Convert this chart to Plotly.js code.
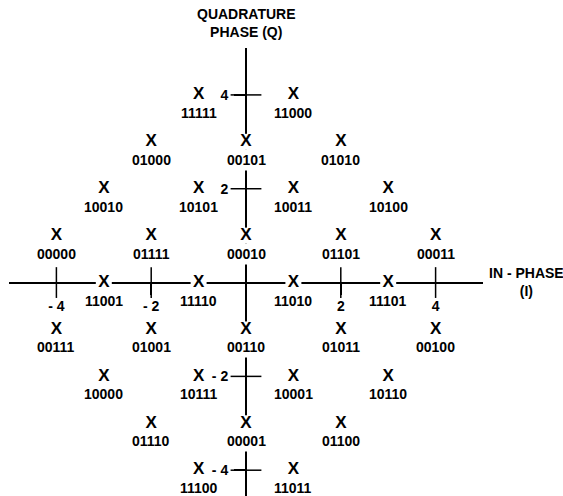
<!DOCTYPE html>
<html>
<head>
<meta charset="utf-8">
<script src="https://cdn.plot.ly/plotly-3.0.1.min.js"></script>
<style>
	body {margin: 0; background: #fff;}
	#chart {width: 563px; height: 496px;}
</style>
</head>
<body>
<div id="chart"></div>
<script>
// constellation points, row by row from the top (Q = 4 down to Q = -4)
const inPhase = [
	-1, 1,
	-2, 0, 2,
	-3, -1, 1, 3,
	-4, -2, 0, 2, 4,
	-3, -1, 1, 3,
	-4, -2, 0, 2, 4,
	-3, -1, 1, 3,
	-2, 0, 2,
	-1, 1,
];
const quadrature = [
	4, 4,
	3, 3, 3,
	2, 2, 2, 2,
	1, 1, 1, 1, 1,
	0, 0, 0, 0,
	-1, -1, -1, -1, -1,
	-2, -2, -2, -2,
	-3, -3, -3,
	-4, -4,
];
const codes = [
	'11111', '11000',
	'01000', '00101', '01010',
	'10010', '10101', '10011', '10100',
	'00000', '01111', '00010', '01101', '00011',
	'11001', '11110', '11010', '11101',
	'00111', '01001', '00110', '01011', '00100',
	'10000', '10111', '10001', '10110',
	'01110', '00001', '01100',
	'11100', '11011',
];

const tickVals = [-4, -2, 2, 4];
const xTickText = ['- 4', '- 2', '2', '4'];
const yTickText = ['- 4', '- 2', '2', '4'];

const xRange = [-5, 5];
const yRange = [-4.55, 5];

const FONT = 'Liberation Sans, Arial, Helvetica, sans-serif';

function tickCrosses() {
	// little cross bars where the ticks sit on both axes
	const x = [];
	const y = [];
	const symbols = [];
	for (const v of tickVals) {
		x.push(0); y.push(v); symbols.push('line-ew');
	}
	for (const v of tickVals) {
		x.push(v); y.push(0); symbols.push('line-ns');
	}
	return {
		x, y, type: 'scatter', mode: 'markers', hoverinfo: 'skip',
		marker: {symbol: symbols, size: 22, color: 'black', line: {color: 'black', width: 1.5}},
		cliponaxis: false,
	};
}

function pointTrace() {
	// white square under each X breaks the axis lines like in the drawing
	return {
		x: inPhase, y: quadrature, type: 'scatter', mode: 'markers+text',
		text: inPhase.map(() => 'X'), textposition: 'middle center',
		textfont: {family: FONT, size: 17, weight: 'bold', color: 'black'},
		marker: {symbol: 'square', size: 16, color: 'white', line: {width: 0}},
		cliponaxis: false, hoverinfo: 'skip',
	};
}

function codeLabels() {
	return codes.map((c, k) => ({
		x: inPhase[k], y: quadrature[k], xref: 'x', yref: 'y',
		text: c, showarrow: false, yshift: -18,
		font: {family: FONT, size: 14, weight: 'bold', color: 'black'},
		bgcolor: inPhase[k] === 0 ? 'white' : 'rgba(0,0,0,0)', borderpad: 2,
	}));
}

const axisCommon = {
	showgrid: false, zeroline: false, showline: true, linecolor: 'black', linewidth: 2,
	ticks: 'outside', ticklen: 11, tickwidth: 1.5, tickcolor: 'black',
	tickmode: 'array', tickvals: tickVals, anchor: 'free', layer: 'below traces',
	tickfont: {family: FONT, size: 14, weight: 'bold', color: 'black'},
	fixedrange: true,
};

const layout = {
	width: 563, height: 496,
	margin: {l: 9, r: 80, t: 48, b: 0, pad: 0},
	paper_bgcolor: 'white', plot_bgcolor: 'white',
	showlegend: false, hovermode: false,
	xaxis: Object.assign({}, axisCommon, {
		range: xRange, ticktext: xTickText, side: 'bottom',
		position: -yRange[0] / (yRange[1] - yRange[0]),
	}),
	yaxis: Object.assign({}, axisCommon, {
		range: yRange, ticktext: yTickText, side: 'left', ticklabelstandoff: 3,
		position: -xRange[0] / (xRange[1] - xRange[0]),
	}),
	annotations: codeLabels().concat([
		{
			xref: 'x', x: 0, yref: 'paper', y: 1, yanchor: 'bottom', yshift: 6,
			text: 'QUADRATURE<br>PHASE (Q)', showarrow: false, align: 'center',
			font: {family: FONT, size: 14, weight: 'bold', color: 'black'},
		},
		{
			xref: 'paper', x: 1, xanchor: 'left', xshift: 4, yref: 'y', y: 0, yshift: 1,
			text: 'IN - PHASE<br>(I)', showarrow: false, align: 'center',
			font: {family: FONT, size: 14, weight: 'bold', color: 'black'},
		},
	]),
};

Plotly.newPlot('chart', [tickCrosses(), pointTrace()], layout, {displayModeBar: false, staticPlot: true});
</script>
</body>
</html>
